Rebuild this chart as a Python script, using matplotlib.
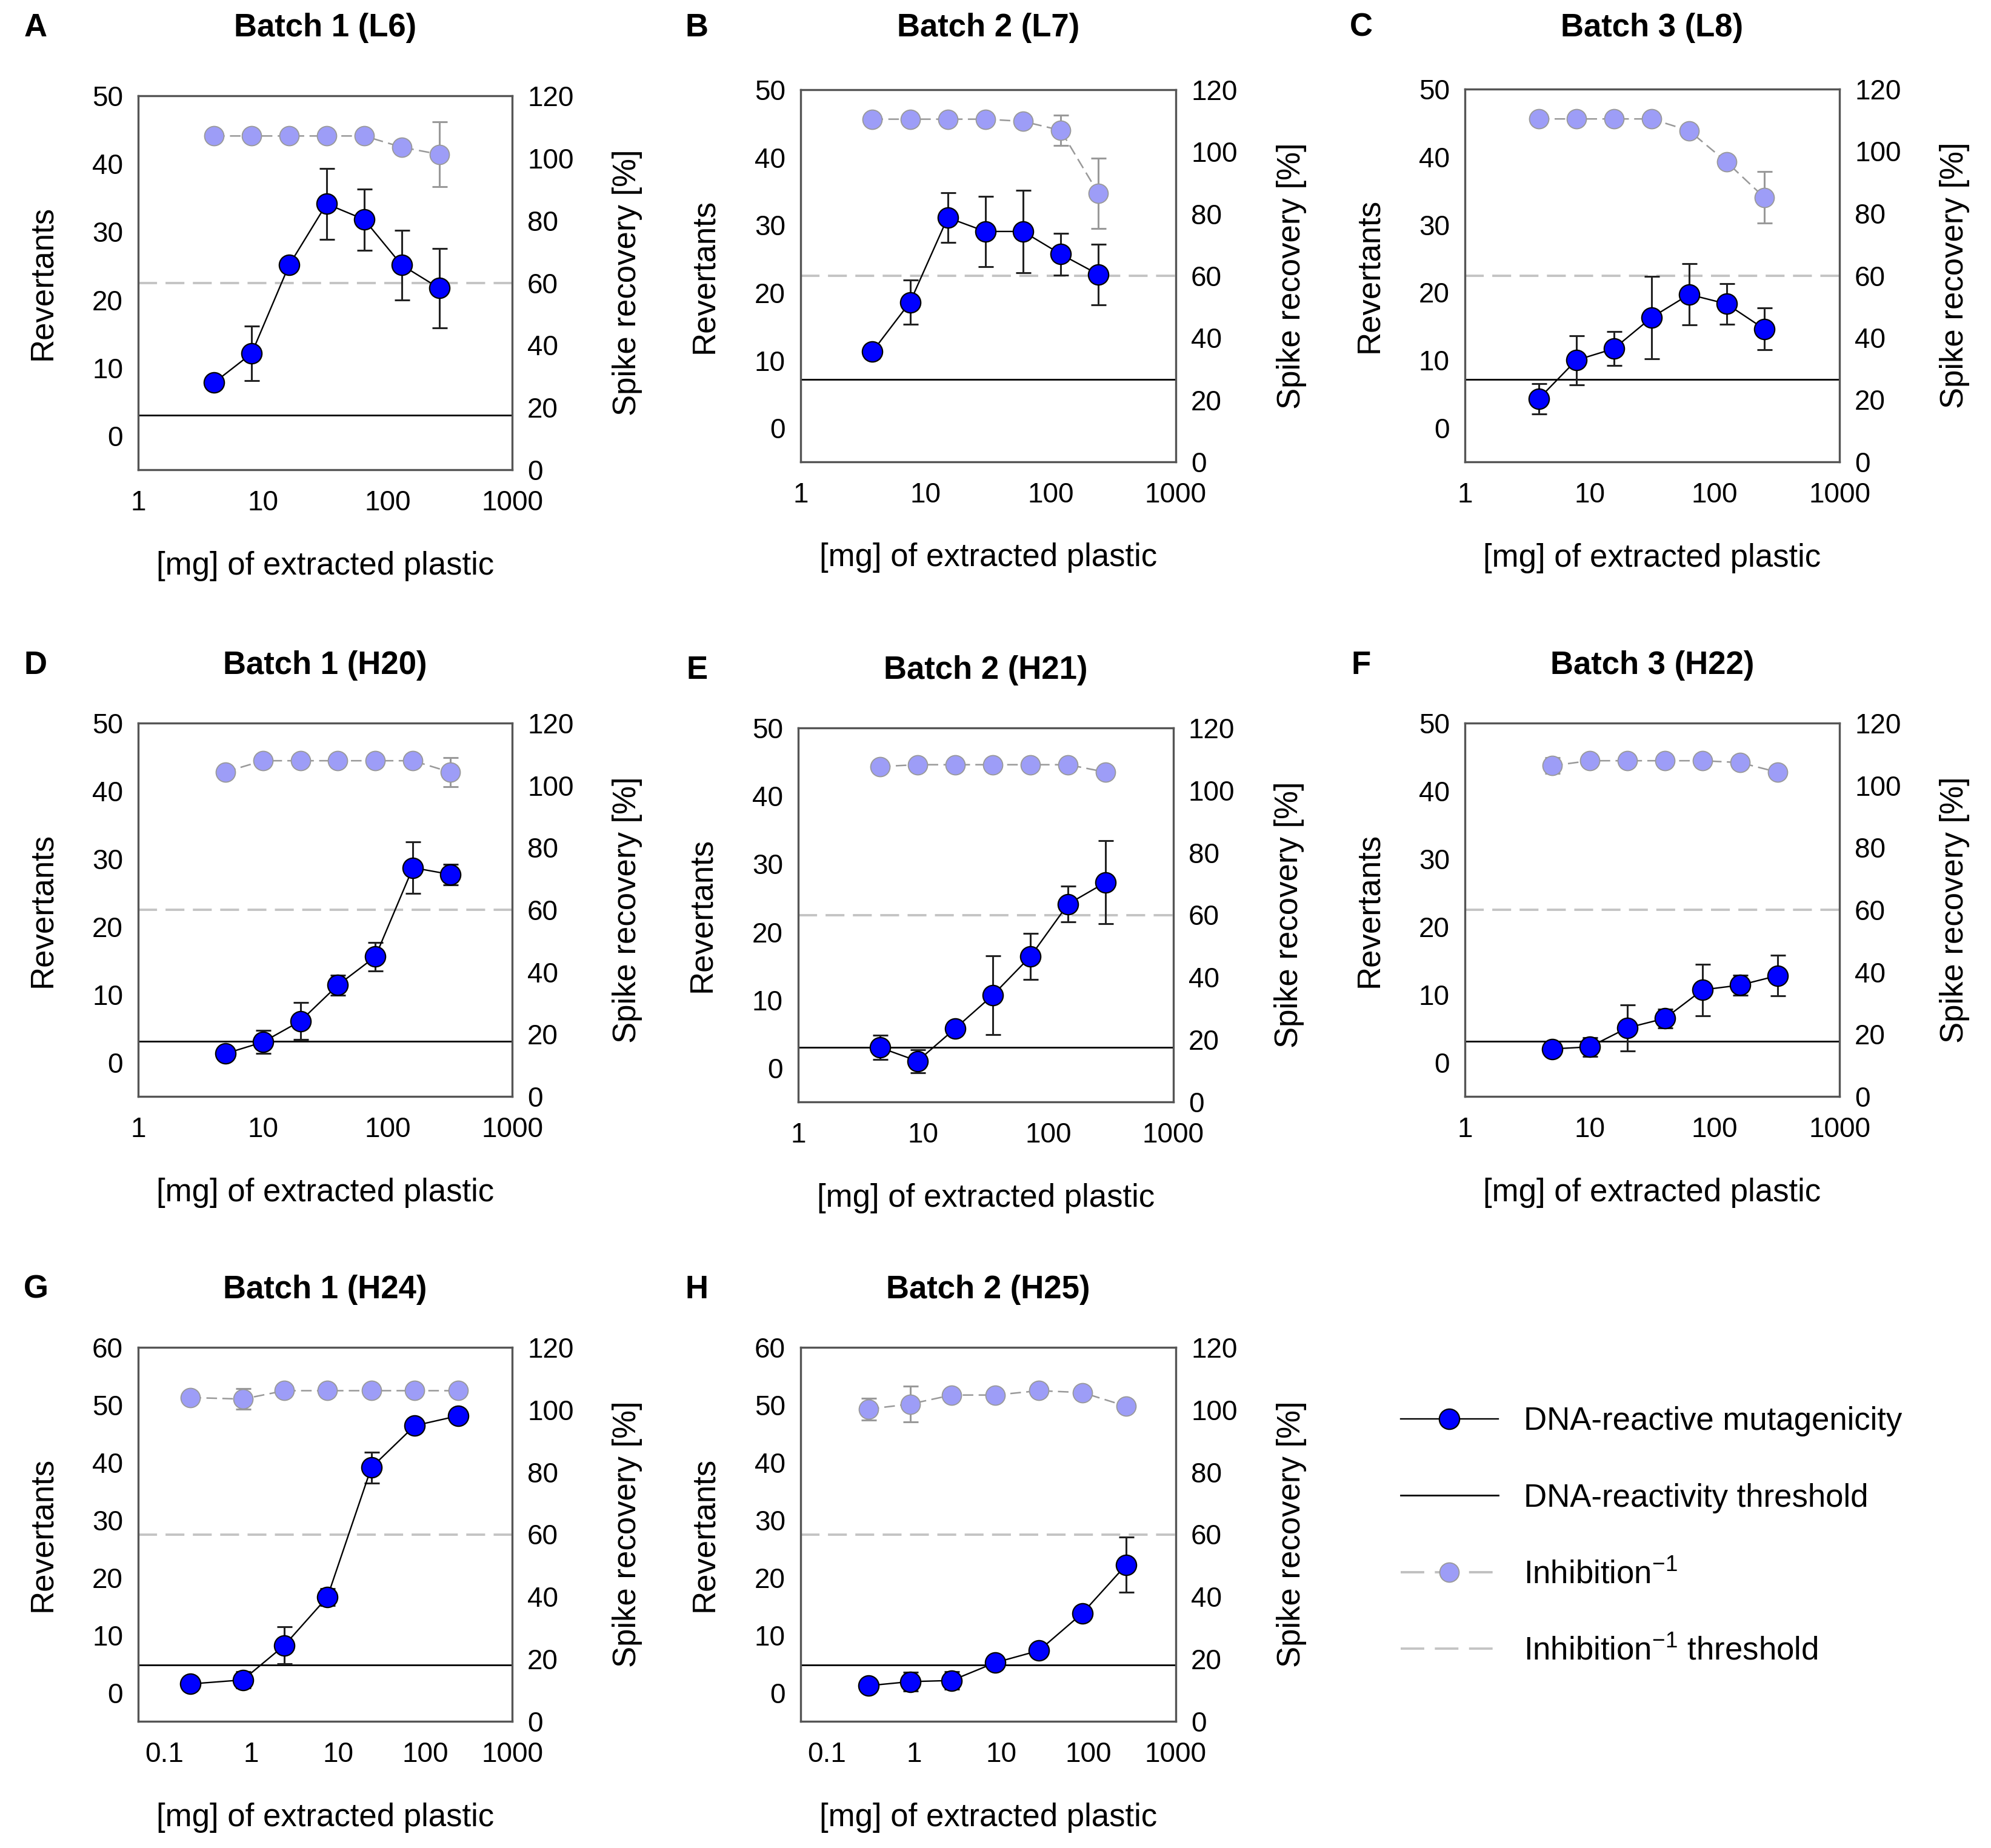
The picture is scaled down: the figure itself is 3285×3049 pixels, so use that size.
import matplotlib.pyplot as plt
from matplotlib.lines import Line2D
from matplotlib.ticker import NullLocator

plt.rcParams['font.family'] = ['Liberation Sans', 'DejaVu Sans']
plt.rcParams['mathtext.fontset'] = 'custom'
plt.rcParams['mathtext.rm'] = 'Liberation Sans'
plt.rcParams['mathtext.it'] = 'Liberation Sans:italic'

# --- data ---
dose_A = [4.06, 8.13, 16.25, 32.5, 65, 130, 260]
rev_A = [7.8, 12.1, 25.1, 34.1, 31.8, 25.1, 21.7]
rev_err_A = [0.5, 4.0, 0.6, 5.2, 4.5, 5.1, 5.8]
spike_A = [107.1, 107.1, 107.1, 107.1, 107.1, 103.5, 101.2]
spike_err_A = [0, 0, 0, 0, 0, 1.8, 10.4]
thr_A = 3.0

dose_B = [3.75, 7.5, 15, 30, 60, 120, 240]
rev_B = [11.3, 18.6, 31.1, 29.05, 29.05, 25.7, 22.7]
rev_err_B = [1.0, 3.3, 3.7, 5.2, 6.1, 3.1, 4.5]
spike_B = [110.5, 110.5, 110.5, 110.5, 109.8, 106.9, 86.6]
spike_err_B = [0, 0, 0, 0, 0, 4.8, 11.3]
thr_B = 7.2

dose_C = [3.9, 7.8, 15.6, 31.25, 62.5, 125, 250]
rev_C = [4.3, 10.0, 11.7, 16.3, 19.7, 18.3, 14.6]
rev_err_C = [2.2, 3.6, 2.5, 6.1, 4.5, 3.0, 3.1]
spike_C = [110.4, 110.4, 110.4, 110.4, 106.6, 96.5, 85.1]
spike_err_C = [0, 0, 0, 0, 0, 0, 8.3]
thr_C = 7.2

dose_D = [5, 10, 20, 40, 80, 160, 320]
rev_D = [1.3, 3.0, 6.1, 11.4, 15.6, 28.7, 27.7]
rev_err_D = [0.5, 1.7, 2.7, 1.5, 2.1, 3.8, 1.5]
spike_D = [104.3, 107.9, 107.9, 107.9, 107.9, 107.9, 104.2]
spike_err_D = [0, 0, 0, 0, 0, 0, 4.7]
thr_D = 3.1

dose_E = [4.5, 9, 18, 36, 72, 144, 288]
rev_E = [3.0, 1.0, 5.8, 10.7, 16.4, 24.1, 27.3]
rev_err_E = [1.8, 1.7, 0.9, 5.8, 3.4, 2.6, 6.1]
spike_E = [107.6, 108.2, 108.2, 108.2, 108.2, 108.2, 105.8]
spike_err_E = [0, 0, 0, 0, 0, 0, 0]
thr_E = 3.0

dose_F = [5, 10, 20, 40, 80, 160, 320]
rev_F = [2.0, 2.3, 5.1, 6.5, 10.7, 11.4, 12.8]
rev_err_F = [0.7, 1.4, 3.4, 1.4, 3.8, 1.5, 3.0]
spike_F = [106.3, 107.9, 107.9, 107.9, 107.9, 107.3, 104.2]
spike_err_F = [2.5, 0, 0, 0, 0, 0, 0]
thr_F = 3.1

dose_G = [0.2, 0.8, 2.4, 7.5, 24, 76, 240]
rev_G = [1.5, 2.2, 8.2, 16.6, 39.1, 46.4, 48.1]
rev_err_G = [0.5, 1.4, 3.2, 1.5, 2.7, 1.0, 0.8]
spike_G = [103.9, 103.4, 106.1, 106.1, 106.1, 106.1, 106.1]
spike_err_G = [1.5, 3.3, 0, 0, 0, 0, 0]
thr_G = 4.8

dose_H = [0.3, 0.9, 2.7, 8.5, 27, 85, 270]
rev_H = [1.2, 1.9, 2.1, 5.2, 7.3, 13.8, 22.2]
rev_err_H = [0.5, 1.6, 1.5, 0.5, 0.5, 0.5, 4.8]
spike_H = [100.2, 101.8, 104.7, 104.7, 106.1, 105.5, 101.1]
spike_err_H = [3.5, 5.8, 0, 0, 0, 0, 0]
thr_H = 4.8

spike_threshold = 60

titles = ['Batch 1 (L6)', 'Batch 2 (L7)', 'Batch 3 (L8)',
          'Batch 1 (H20)', 'Batch 2 (H21)', 'Batch 3 (H22)',
          'Batch 1 (H24)', 'Batch 2 (H25)']
letters = ['A', 'B', 'C', 'D', 'E', 'F', 'G', 'H']

xticks_high = [1, 10, 100, 1000]
xticklabels_high = ['1', '10', '100', '1000']
xticks_low = [0.1, 1, 10, 100, 1000]
xticklabels_low = ['0.1', '1', '10', '100', '1000']

W, H = 3285, 3049
BLUE = '#0000ff'
LILAC = '#9d9df7'
FRAME = '#555555'

fig = plt.figure(figsize=(W / 100, H / 100), dpi=100)


def px_axes(l, t, r, b):
    return fig.add_axes([l / W, 1 - b / H, (r - l) / W, (b - t) / H])


def draw_panel(box, dose, rev, rev_err, spike, spike_err, thr, ytop,
               xlim, xticks, xlabels, title, letter, title_y, letter_x):
    ax = px_axes(*box)
    ax2 = ax.twinx()
    ax.set_zorder(ax2.get_zorder() + 1)
    ax.patch.set_visible(False)

    ax.set_xscale('log')
    ax.set_xlim(xlim)
    ax.set_ylim(-5, ytop)
    ax2.set_ylim(0, 120)

    # thresholds
    ax.axhline(thr, color='black', lw=2.0, zorder=1)
    ax2.axhline(spike_threshold, color='#c4c4c4', lw=2.8,
                linestyle=(0, (8, 3.6)), zorder=1)

    # spike recovery (right axis)
    ax2.errorbar(dose, spike, yerr=spike_err, fmt='none', ecolor='#999999',
                 elinewidth=2.2, capsize=9, capthick=2.2, zorder=2)
    ax2.plot(dose, spike, color='#999999', lw=1.8, linestyle=(0, (7, 3.5)),
             marker='o', ms=23, mfc=LILAC, mec='#999999', mew=1.3, zorder=3)

    # revertants (left axis)
    ax.errorbar(dose, rev, yerr=rev_err, fmt='none', ecolor='#222222',
                elinewidth=2.2, capsize=9, capthick=2.2, zorder=3)
    ax.plot(dose, rev, color='black', lw=1.7, marker='o', ms=24,
            mfc=BLUE, mec='black', mew=1.6, zorder=4)

    ax.set_xticks(xticks)
    ax.set_xticklabels(xlabels)
    ax.xaxis.set_minor_locator(NullLocator())
    ax.set_yticks(range(0, ytop + 1, 10))
    ax2.set_yticks(range(0, 121, 20))

    ax.tick_params(axis='both', length=0, labelsize=33, pad=18)
    ax.tick_params(axis='x', pad=24)
    ax2.tick_params(axis='y', length=0, labelsize=33, pad=18)

    for a in (ax, ax2):
        for s in a.spines.values():
            s.set_color(FRAME)
            s.set_linewidth(2.3)

    ax.text(-0.256, 0.5, 'Revertants', transform=ax.transAxes, rotation=90,
            ha='center', va='center', fontsize=38)
    ax.text(1.308, 0.5, 'Spike recovery [%]', transform=ax.transAxes,
            rotation=90, ha='center', va='center', fontsize=38)
    ax.text(0.5, -0.258, '[mg] of extracted plastic', transform=ax.transAxes,
            ha='center', va='center', fontsize=38)

    cx = (box[0] + box[2]) / 2
    fig.text(cx / W, 1 - title_y / H, title, ha='center', va='center',
             fontsize=38, fontweight='bold')
    fig.text(letter_x / W, 1 - title_y / H, letter, ha='center', va='center',
             fontsize=38, fontweight='bold')


panels = [
    ((228, 158, 845, 775), dose_A, rev_A, rev_err_A, spike_A, spike_err_A, thr_A, 50, 46, 59),
    ((1321, 148, 1940, 762), dose_B, rev_B, rev_err_B, spike_B, spike_err_B, thr_B, 50, 46, 1150),
    ((2417, 147, 3035, 762), dose_C, rev_C, rev_err_C, spike_C, spike_err_C, thr_C, 50, 46, 2246),
    ((228, 1193, 845, 1809), dose_D, rev_D, rev_err_D, spike_D, spike_err_D, thr_D, 50, 1098, 59),
    ((1317, 1201, 1936, 1818), dose_E, rev_E, rev_err_E, spike_E, spike_err_E, thr_E, 50, 1106, 1150),
    ((2417, 1193, 3035, 1809), dose_F, rev_F, rev_err_F, spike_F, spike_err_F, thr_F, 50, 1098, 2246),
    ((228, 2223, 845, 2840), dose_G, rev_G, rev_err_G, spike_G, spike_err_G, thr_G, 60, 2128, 59),
    ((1321, 2223, 1940, 2840), dose_H, rev_H, rev_err_H, spike_H, spike_err_H, thr_H, 60, 2128, 1150),
]

for i, (box, d, r, re, s, se, t, ytop, ty, lx) in enumerate(panels):
    if ytop == 60:
        xlim, xt, xl = (0.05, 1000), xticks_low, xticklabels_low
    else:
        xlim, xt, xl = (1, 1000), xticks_high, xticklabels_high
    draw_panel(box, d, r, re, s, se, t, ytop, xlim, xt, xl,
               titles[i], letters[i], ty, lx)

# legend
handles = [
    Line2D([], [], color='black', lw=1.7, marker='o', ms=24, mfc=BLUE, mec='black', mew=1.6),
    Line2D([], [], color='black', lw=2.0),
    Line2D([], [], color='#c0c0c0', lw=2.8, linestyle=(0, (10, 4.5)), marker='o', ms=23,
           mfc=LILAC, mec='#999999', mew=1.3),
    Line2D([], [], color='#c4c4c4', lw=2.8, linestyle=(0, (10, 4.5))),
]
labels = ['DNA-reactive mutagenicity', 'DNA-reactivity threshold',
          'Inhibition$^{-1}$', 'Inhibition$^{-1}$ threshold']
fig.legend(handles, labels, loc='upper left', bbox_to_anchor=(2311 / W, 1 - 2320 / H),
           frameon=False, fontsize=38, handlelength=3.05, handletextpad=0.8,
           labelspacing=1.45, borderpad=0, borderaxespad=0)

fig.savefig('out.png', dpi=100)
